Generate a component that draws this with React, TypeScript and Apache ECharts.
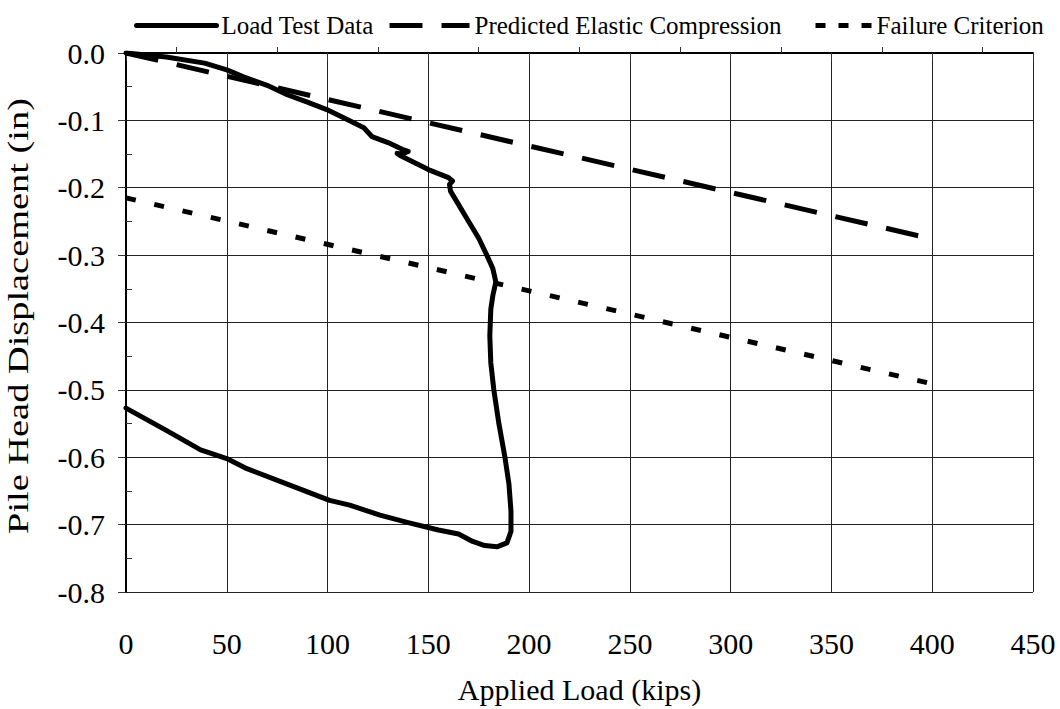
import React, { useEffect, useRef } from "react";
import * as echarts from "echarts";

const xTicks = [0, 50, 100, 150, 200, 250, 300, 350, 400, 450];
const yTicks = [0, -0.1, -0.2, -0.3, -0.4, -0.5, -0.6, -0.7, -0.8];

const loadTestData: [number, number][] = [
  [0, 0], [20, -0.006], [39, -0.015], [50, -0.025], [58, -0.035], [70, -0.048],
  [80, -0.062], [90, -0.073], [99.6, -0.084], [110, -0.099], [118, -0.111],
  [122, -0.124], [130, -0.133], [137, -0.143], [140, -0.146], [137, -0.15],
  [134.5, -0.149], [136, -0.152], [150, -0.173], [160, -0.185], [162, -0.19],
  [160.5, -0.195], [161, -0.205], [165, -0.225], [170, -0.25], [175, -0.275],
  [179, -0.3], [182, -0.32], [183.5, -0.34], [182, -0.36], [181, -0.38],
  [180.5, -0.42], [181, -0.46], [182.5, -0.5], [185, -0.55], [188, -0.6],
  [190, -0.64], [191, -0.68], [191, -0.71], [189, -0.727], [184, -0.733],
  [178, -0.731], [172, -0.725], [165, -0.714], [155, -0.708], [140, -0.697],
  [126, -0.686], [111, -0.671], [101, -0.664], [80, -0.64], [60, -0.617],
  [50, -0.602], [40, -0.592], [37, -0.589], [20, -0.56], [0, -0.527],
];
const elasticData: [number, number][] = [[0, 0], [400, -0.276]];
const failureData: [number, number][] = [[0, -0.215], [400, -0.491]];

const X_TITLE = "Applied Load (kips)";
const Y_TITLE = "Pile Head Displacement (in)";
const FONT = "Liberation Serif";

export default function App() {
  const ref = useRef<HTMLDivElement>(null);
  useEffect(() => {
    if (!ref.current) return;
    const chart = echarts.init(ref.current, null, { renderer: "svg" });
    const legendBase = {
      top: 8,
      itemHeight: 14,
      textStyle: { fontFamily: FONT, fontSize: 25, color: "#000" },
      itemStyle: { opacity: 0 },
      itemGap: 0,
    };
    chart.setOption({
      animation: false,
      backgroundColor: "#fff",
      legend: [
        {
          ...legendBase, left: 129, itemWidth: 80, data: ["Load Test Data"],
          lineStyle: { width: 5, color: "#000", type: "solid" },
        },
        {
          ...legendBase, left: 382, itemWidth: 80, data: ["Predicted Elastic Compression"],
          lineStyle: { width: 5, color: "#000", type: [33, 19] },
        },
        {
          ...legendBase, left: 808, itemWidth: 56, data: ["Failure Criterion"],
          lineStyle: { width: 5, color: "#000", type: [10, 13] },
        },
      ],
      grid: { left: 126, right: 27, top: 53, bottom: 117, containLabel: false },
      graphic: [
        {
          type: "text",
          x: 18,
          y: 316,
          rotation: Math.PI / 2,
          scaleX: 1.28,
          style: {
            text: Y_TITLE,
            fontFamily: FONT,
            fontSize: 30,
            fill: "#000",
            align: "center",
            verticalAlign: "middle",
          },
        },
      ],
      xAxis: {
        type: "value",
        min: xTicks[0],
        max: xTicks[xTicks.length - 1],
        interval: 50,
        name: X_TITLE,
        nameLocation: "middle",
        nameGap: 82,
        nameTextStyle: { fontFamily: FONT, fontSize: 30, color: "#000" },
        axisLine: { show: true, lineStyle: { color: "#000", width: 2 } },
        axisTick: { show: true, inside: false, length: 8, lineStyle: { color: "#333", width: 1 } },
        minorTick: { show: true, splitNumber: 2, length: -6, lineStyle: { color: "#333", width: 1 } },
        axisLabel: { fontFamily: FONT, fontSize: 30, color: "#000", margin: 36 },
        splitLine: { show: true, lineStyle: { color: "#222", width: 1 } },
      },
      yAxis: {
        type: "value",
        min: yTicks[yTicks.length - 1],
        max: yTicks[0],
        interval: 0.1,
        axisLine: { show: true, lineStyle: { color: "#000", width: 2 } },
        axisTick: { show: true, inside: false, length: 8, lineStyle: { color: "#333", width: 1 } },
        minorTick: { show: true, splitNumber: 2, length: -6, lineStyle: { color: "#333", width: 1 } },
        axisLabel: {
          fontFamily: FONT, fontSize: 30, color: "#000", margin: 21,
          formatter: (v: number) => v.toFixed(1),
        },
        splitLine: { show: true, lineStyle: { color: "#222", width: 1 } },
      },
      series: [
        {
          name: "Load Test Data", type: "line", data: loadTestData, symbol: "none",
          lineStyle: { color: "#000", width: 5, join: "round", cap: "round" }, color: "#000",
        },
        {
          name: "Predicted Elastic Compression", type: "line", data: elasticData, symbol: "none",
          lineStyle: { color: "#000", width: 5, type: [33, 19] }, color: "#000",
        },
        {
          name: "Failure Criterion", type: "line", data: failureData, symbol: "none",
          lineStyle: { color: "#000", width: 5, type: [10, 19] }, color: "#000",
        },
      ],
    });
    return () => chart.dispose();
  }, []);
  return (
    <div
      ref={ref}
      style={{ position: "fixed", left: 0, top: 0, width: 1060, height: 709, background: "#fff" }}
    />
  );
}
